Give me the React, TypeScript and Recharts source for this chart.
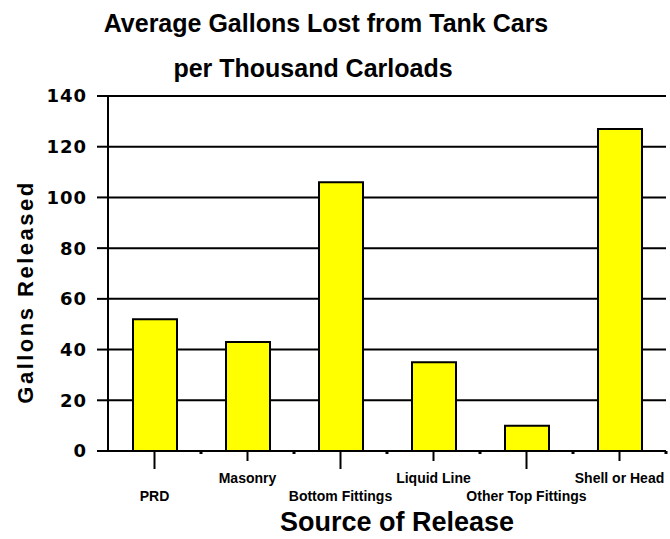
import { BarChart, Bar, XAxis, YAxis, CartesianGrid } from 'recharts';

const sources = ['PRD', 'Masonry', 'Bottom Fittings', 'Liquid Line', 'Other Top Fittings', 'Shell or Head'];
const gallonsReleased = [52, 43, 106, 35, 10, 127];
const yTicks = [0, 20, 40, 60, 80, 100, 120, 140];

const data = sources.map((source, i) => ({ source, gallons: gallonsReleased[i] }));

const W = 670;
const H = 539;
const AXIS_W = 108;
const RIGHT = 4;
const BAND = (W - AXIS_W - RIGHT) / sources.length;
const FONT = '"Liberation Sans", Arial, sans-serif';

function ValueTick({ x, y, payload }: any) {
  return (
    <text
      x={x}
      y={y}
      dy="0.36em"
      textAnchor="end"
      fontFamily='"DejaVu Sans", sans-serif'
      fontWeight="bold"
      fontSize={18}
      letterSpacing={1}
      fill="#000"
    >
      {payload.value}
    </text>
  );
}

// staggered category labels: even ones sit lower with a longer tick
function SourceTick({ x, y, payload, index }: any) {
  const low = index % 2 === 0;
  return (
    <g>
      <line x1={x} y1={y} x2={x} y2={y + (low ? 18 : 10)} stroke="#000" strokeWidth={2} />
      <rect x={x + BAND / 2 - 1.5} y={y} width={3} height={3} fill="#000" />
      <text
        x={x}
        y={y + (low ? 50 : 32)}
        textAnchor="middle"
        fontFamily={FONT}
        fontWeight="bold"
        fontSize={14}
        fill="#000"
      >
        {payload.value}
      </text>
    </g>
  );
}

export default function App() {
  return (
    <div style={{ position: 'relative', width: W, height: H, background: '#fff' }}>
      <style>{'body{margin:0}'}</style>
      <BarChart
        width={W}
        height={H}
        data={data}
        margin={{ top: 96, right: RIGHT, left: 0, bottom: 0 }}
        barSize={44}
      >
        <CartesianGrid vertical={false} stroke="#000" strokeWidth={2} />
        <XAxis
          dataKey="source"
          height={88}
          interval={0}
          tickLine={false}
          tickSize={0}
          tickMargin={0}
          axisLine={{ stroke: '#000', strokeWidth: 2 }}
          tick={<SourceTick />}
        />
        <YAxis
          width={AXIS_W}
          domain={[0, 140]}
          ticks={yTicks}
          interval={0}
          tickSize={11}
          tickMargin={10}
          tickLine={{ stroke: '#000', strokeWidth: 2 }}
          axisLine={{ stroke: '#000', strokeWidth: 2 }}
          tick={<ValueTick />}
        />
        <Bar dataKey="gallons" fill="#ffff00" stroke="#000" strokeWidth={2} isAnimationActive={false} />
      </BarChart>
      <svg
        width={W}
        height={H}
        style={{ position: 'absolute', left: 0, top: 0, pointerEvents: 'none' }}
      >
        <g fontFamily={FONT} fontWeight="bold" fill="#000" textAnchor="middle">
          <text x={326} y={32} fontSize={25}>Average Gallons Lost from Tank Cars</text>
          <text x={313} y={77} fontSize={25}>per Thousand Carloads</text>
          <text x={397} y={531} fontSize={27}>Source of Release</text>
          <text
            x={25}
            y={292}
            fontSize={22}
            letterSpacing={2.5}
            dominantBaseline="central"
            transform="rotate(-90, 25, 292)"
          >
            Gallons Released
          </text>
        </g>
      </svg>
    </div>
  );
}
